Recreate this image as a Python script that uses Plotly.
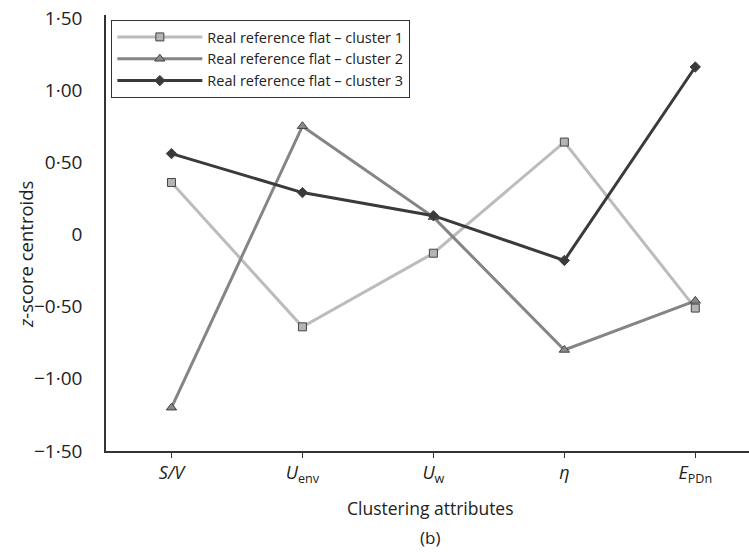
import plotly.graph_objects as go

categories = ["S/V", "Uenv", "Uw", "eta", "EPDn"]
cat_labels = ["<i>S/V</i>", "<i>U</i><sub>env</sub>", "<i>U</i><sub>w</sub>", "<i>η</i>", "<i>E</i><sub>PDn</sub>"]
cluster1 = [0.36, -0.64, -0.13, 0.64, -0.51]
cluster2 = [-1.20, 0.75, 0.12, -0.80, -0.46]
cluster3 = [0.56, 0.29, 0.13, -0.18, 1.16]
names = ["Real reference flat – cluster 1", "Real reference flat – cluster 2", "Real reference flat – cluster 3"]
y_tickvals = [1.5, 1.0, 0.5, 0, -0.5, -1.0, -1.5]
y_ticktext = ["1·50", "1·00", "0·50", "0", "−0·50", "−1·00", "−1·50"]

font = "Open Sans, Noto Sans, sans-serif"
fig = go.Figure()
styles = [
    (cluster1, "#bcbcbc", "square", 8, "#b4b4b4"),
    (cluster2, "#858585", "triangle-up", 9, "#8a8a8a"),
    (cluster3, "#3a3a3a", "diamond", 8, "#3a3a3a"),
]
for (vals, color, sym, size, mcolor), name in zip(styles, names):
    fig.add_trace(go.Scatter(
        x=list(range(len(categories))), y=vals, name=name, mode="lines+markers",
        line=dict(color=color, width=3),
        marker=dict(symbol=sym, size=size, color=mcolor,
                    line=dict(color="#444444", width=1)),
    ))

fig.update_layout(
    width=749, height=552,
    margin=dict(l=106, r=0, t=15, b=101),
    plot_bgcolor="white", paper_bgcolor="white",
    font=dict(family=font, size=16, color="#222222"),
    showlegend=True,
    legend=dict(x=0.008, y=0.989, xanchor="left", yanchor="top",
                bordercolor="#333333", borderwidth=1.2, bgcolor="white",
                font=dict(size=14.5, color="#222222"), tracegroupgap=0,
                itemwidth=85),
    xaxis=dict(
        range=[-0.5, 4.41], tickvals=list(range(len(categories))), ticktext=cat_labels,
        showline=True, linecolor="#333333", linewidth=1.5, ticks="outside", ticklen=5,
        tickcolor="#333333", showgrid=False, zeroline=False,
        tickfont=dict(size=18),
    ),
    yaxis=dict(
        range=[-1.5, 1.52], tickvals=y_tickvals, ticktext=y_ticktext,
        showline=True, linecolor="#333333", linewidth=1.5, ticks="",
        showgrid=False, zeroline=False, ticklabelstandoff=18,
        tickfont=dict(size=19),
    ),
    annotations=[
        dict(text="<i>z</i>-score centroids", xref="paper", yref="paper",
             x=(25 - 106) / 643, y=1 - (255 - 15) / 436, textangle=-90,
             xanchor="center", yanchor="middle", showarrow=False, font=dict(size=18.5)),
        dict(text="Clustering attributes", xref="paper", yref="paper",
             x=(430 - 106) / 643, y=-(508 - 451) / 436, xanchor="center",
             yanchor="middle", showarrow=False, font=dict(size=17.5)),
        dict(text="(b)", xref="paper", yref="paper", x=(430 - 106) / 643,
             y=-(537 - 451) / 436, xanchor="center",
             yanchor="middle", showarrow=False, font=dict(size=17)),
        dict(text="(a)", xref="paper", yref="paper", x=(432 - 106) / 643,
             y=1 + (15 - 3) / 436, xanchor="center",
             yanchor="bottom", showarrow=False, font=dict(size=17)),
    ],
)
fig.write_html("out.html", config={"displayModeBar": False})
with open("out.html", encoding="utf-8") as f:
    html = f.read()
html = html.replace("<body>", '<body style="margin:0;padding:0;overflow:hidden">', 1)
with open("out.html", "w", encoding="utf-8") as f:
    f.write(html)
